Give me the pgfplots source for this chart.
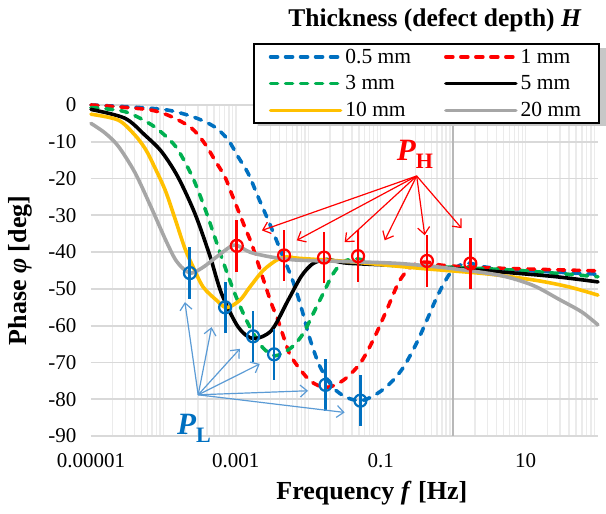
\documentclass[border=0pt]{standalone}
\usepackage{fontspec}
\setmainfont{Liberation Serif}
\usepackage{pgfplots}
\pgfplotsset{compat=1.18}
\usetikzlibrary{arrows.meta}
\definecolor{cblue}{HTML}{0070C0}
\definecolor{cred}{HTML}{FF0000}
\definecolor{cgreen}{HTML}{00B050}
\definecolor{cyellow}{HTML}{FFC000}
\definecolor{cgray}{HTML}{A6A6A6}
\definecolor{carrowblue}{HTML}{5B9BD5}
\definecolor{gridc}{HTML}{D9D9D9}
\definecolor{minorc}{HTML}{EBEBEB}
\tikzset{curve/.style={line width=3.6pt, line cap=round, smooth},
  dcurve/.style={curve, dash pattern=on 7pt off 8pt}}
\begin{document}
\begin{tikzpicture}
\useasboundingbox (-91pt,-78pt) rectangle (515pt,436pt);
\begin{axis}[
  at={(0pt,0pt)}, anchor=south west,
  scale only axis, width=507pt, height=331pt,
  xmode=log, xmin=1e-5, xmax=100, ymin=-90, ymax=0,
  clip=false,
  xtick={1e-5,1e-3,0.1,10}, xticklabels={0.00001,0.001,0.1,10},
  ytick={-90,-80,-70,-60,-50,-40,-30,-20,-10,0},
  yticklabels={-90,-80,-70,-60,-50,-40,-30,-20,-10,0},
  minor xtick={2e-5,3e-5,4e-5,5e-5,6e-5,7e-5,8e-5,9e-5,1e-4,2e-4,3e-4,4e-4,5e-4,6e-4,7e-4,8e-4,9e-4,1e-3,2e-3,3e-3,4e-3,5e-3,6e-3,7e-3,8e-3,9e-3,1e-2,2e-2,3e-2,4e-2,5e-2,6e-2,7e-2,8e-2,9e-2,0.1,0.2,0.3,0.4,0.5,0.6,0.7,0.8,0.9,2,3,4,5,6,7,8,9,10,20,30,40,50,60,70,80,90},
  xminorgrids=true, ymajorgrids=true, xmajorgrids=false,
  major grid style={gridc, line width=1.8pt},
  minor grid style={minorc, line width=1.4pt},
  extra x ticks={1}, extra x tick labels={},
  extra x tick style={xmajorgrids=true, major grid style={color=black!28, line width=2pt}},
  axis line style={draw=none},
  major tick length=0pt, minor tick length=0pt,
  tick label style={font=\fontsize{21}{25}\selectfont},
  yticklabel style={xshift=-11pt},
  xticklabel style={yshift=-14pt},
  xlabel={\textbf{Frequency \textit{f} [Hz]}},
  xlabel style={font=\fontsize{26}{30}\selectfont, at={(axis description cs:0.554,-0.172)}, anchor=center},
  ylabel={\textbf{Phase \textit{φ} [deg]}},
  ylabel style={font=\fontsize{26}{30}\selectfont, at={(axis description cs:-0.14,0.5)}, anchor=center},
  legend columns=2,
  legend cell align=left,
  legend style={at={(axis description cs:0.3195,1.187)}, anchor=north west,
    draw=black, line width=1.6pt, fill=white, inner xsep=15pt, inner ysep=2pt,
    row sep=5pt, font=\fontsize{21.5}{25}\selectfont,
    nodes={inner sep=3pt},
    /tikz/every even column/.append style={column sep=30pt}},
  legend image code/.code={\draw[#1, line width=3.6pt] (0pt,0pt) -- (70pt,0pt);},
]
% legend shadow (drawn before the legend box, which covers it)
\fill[black!22] (axis description cs:0.329,1.172) rectangle (axis description cs:1.05,0.936);
% 0.5 mm
\addplot[cblue, dcurve] coordinates {
(1e-5,0) (4.05e-5,-0.6) (1.164e-4,-1.4) (2.72e-4,-3.4) (5.13e-4,-6.0) (7.83e-4,-9.5)
(1.076e-3,-14.1) (1.48e-3,-18.6) (2.03e-3,-25.0) (2.79e-3,-31.3) (3.64e-3,-36.8)
(4.49e-3,-41.3) (5.86e-3,-46.8) (7.23e-3,-52.2) (8.47e-3,-56.8) (0.0105,-63.5)
(0.0144,-71.0) (0.0220,-76.8) (0.0337,-79.5) (0.0542,-80.4) (0.0873,-78.6)
(0.133,-75.8) (0.203,-71.5) (0.310,-64.9) (0.445,-58.0) (0.611,-51.8) (0.895,-45.9)
(1.23,-43.6) (1.69,-43.0) (2.87,-44.1) (10,-45.0) (100,-46.0)};
\addlegendentry{0.5 mm}
% 1 mm
\addplot[cred, dcurve] coordinates {
(1e-5,0) (2.38e-5,-0.5) (6.87e-5,-1.4) (1.30e-4,-3.2) (2.45e-4,-6.3) (3.73e-4,-10.5)
(5.13e-4,-15.0) (7.05e-4,-19.5) (8.73e-4,-24.1) (1.076e-3,-28.6) (1.33e-3,-33.2)
(1.65e-3,-37.7) (2.03e-3,-43.1) (2.51e-3,-48.6) (3.10e-3,-54.0) (3.83e-3,-58.6)
(4.74e-3,-64.0) (5.86e-3,-68.6) (0.0105,-74.9) (0.0178,-76.8) (0.0302,-74.9)
(0.0513,-70.4) (0.0783,-64.0) (0.120,-55.9) (0.183,-47.7) (0.279,-43.6)
(0.427,-42.7) (0.723,-43.6) (3.16,-44.3) (100,-45.1)};
\addlegendentry{1 mm}
% 3 mm
\addplot[cgreen, dcurve] coordinates {
(1e-5,-0.7) (2.94e-5,-1.8) (6.87e-5,-5.4) (1.164e-4,-9.1) (1.60e-4,-12.3)
(2.51e-4,-19.5) (3.72e-4,-28.0) (5.13e-4,-36.0) (6.92e-4,-43.5) (9.77e-4,-51.5)
(1.48e-3,-59.5) (2.24e-3,-65.5) (3.47e-3,-68.2) (5.89e-3,-65.9) (8.47e-3,-62.2)
(0.01164,-56.8) (0.0160,-51.3) (0.0220,-45.9) (0.0302,-42.7) (0.0462,-41.8)
(0.0783,-43.0) (0.133,-43.6) (0.895,-44.1) (8.26,-45.0) (100,-46.7)};
\addlegendentry{3 mm}
% 5 mm
\addplot[black, curve] coordinates {
(1e-5,-1.2) (2.94e-5,-3.6) (5.56e-5,-8.2) (9.44e-5,-12.7) (1.58e-4,-19.5)
(2.72e-4,-29.5) (4.38e-4,-41.0) (6.35e-4,-51.3) (1.08e-3,-60.4) (1.73e-3,-63.5)
(3.10e-3,-61.3) (5.26e-3,-53.1) (8.05e-3,-46.5) (0.01164,-43.1) (0.0178,-42.0)
(0.0272,-42.7) (0.0415,-43.1) (0.345,-43.9) (2.87,-45.1) (23.8,-46.6) (100,-48.1)};
\addlegendentry{5 mm}
% 10 mm
\addplot[cyellow, curve] coordinates {
(1e-5,-2.5) (2.38e-5,-4.1) (4.05e-5,-8.2) (5.56e-5,-11.8) (6.87e-5,-15.2)
(1.05e-4,-23.0) (1.44e-4,-30.8) (1.98e-4,-39.0) (2.58e-4,-44.1) (3.54e-4,-49.5)
(5.42e-4,-53.1) (7.45e-4,-55.1) (1.135e-3,-53.1) (1.56e-3,-49.5) (2.38e-3,-45.0)
(3.64e-3,-42.2) (5.0e-3,-41.3) (7.64e-3,-41.7) (0.0372,-42.6) (0.345,-44.4)
(2.87,-45.9) (14.1,-47.7) (40.5,-49.5) (100,-51.7)};
\addlegendentry{10 mm}
% 20 mm
\addplot[cgray, curve] coordinates {
(1e-5,-5.0) (1.56e-5,-7.6) (2.38e-5,-11.2) (4.05e-5,-18.4) (6.87e-5,-28.1)
(1.05e-4,-36.3) (1.44e-4,-41.8) (1.875e-4,-44.5) (2.45e-4,-45.7) (3.54e-4,-44.1)
(5.42e-4,-41.3) (8.26e-4,-38.6) (1.02e-3,-38.1) (1.56e-3,-40.0) (2.65e-3,-41.1)
(4.45e-3,-41.8) (7.64e-3,-42.2) (0.0372,-42.6) (0.183,-43.1) (0.895,-44.4)
(4.38,-46.3) (12.5,-49.0) (30,-53.0) (60,-56.3) (100,-59.8)};
\addlegendentry{20 mm}
% P_L points
\addplot[forget plot, only marks, mark=o, cblue, mark size=6pt, mark options={line width=2.2pt, solid},
  error bars/.cd, y dir=both, y explicit, error mark=none,
  error bar style={line width=2.8pt, cblue, solid}]
coordinates {
(2.32e-4,-45.7) +- (0,7)
(7.11e-4,-55.0) +- (0,7)
(1.73e-3,-62.9) +- (0,7)
(3.37e-3,-67.8) +- (0,7)
(0.0173,-76.1) +- (0,7)
(0.0525,-80.4) +- (0,7)};
% P_H points
\addplot[forget plot, only marks, mark=o, cred, mark size=6pt, mark options={line width=2.2pt, solid},
  error bars/.cd, y dir=both, y explicit, error mark=none,
  error bar style={line width=2.8pt, cred, solid}]
coordinates {
(1.03e-3,-38.3) +- (0,7)
(4.63e-3,-40.9) +- (0,7)
(0.0165,-41.5) +- (0,7)
(0.0487,-41.1) +- (0,7)
(0.435,-42.4) +- (0,7)
(1.73,-43.1) +- (0,7)};
% annotation arrows
\begin{scope}[line width=1.2pt, carrowblue, -{Straight Barb[length=7pt,width=12pt]}]
\draw (axis cs:3.02e-4,-78.8) -- (axis cs:1.98e-4,-53.6);
\draw (axis cs:3.02e-4,-78.8) -- (axis cs:4.62e-4,-60.4);
\draw (axis cs:3.02e-4,-78.8) -- (axis cs:1.135e-3,-66.3);
\draw (axis cs:3.02e-4,-78.8) -- (axis cs:2.14e-3,-70.4);
\draw (axis cs:3.02e-4,-78.8) -- (axis cs:9.93e-3,-77.7);
\draw (axis cs:3.02e-4,-78.8) -- (axis cs:0.0318,-83.6);
\end{scope}
\begin{scope}[line width=1.2pt, cred, -{Straight Barb[length=7pt,width=12pt]}]
\draw (axis cs:0.314,-19.3) -- (axis cs:2.29e-3,-34.1);
\draw (axis cs:0.314,-19.3) -- (axis cs:6.93e-3,-36.8);
\draw (axis cs:0.314,-19.3) -- (axis cs:0.0318,-37.3);
\draw (axis cs:0.314,-19.3) -- (axis cs:0.1135,-36.8);
\draw (axis cs:0.314,-19.3) -- (axis cs:0.405,-35.4);
\draw (axis cs:0.314,-19.3) -- (axis cs:1.31,-33.5);
\end{scope}
\node[anchor=base west, text=cred, inner sep=0pt] at (axis cs:0.166,-15.0)
  {\fontsize{31}{31}\selectfont\bfseries\itshape P\raisebox{-8pt}{\fontsize{22}{22}\selectfont\upshape H}};
\node[anchor=base west, text=cblue, inner sep=0pt] at (axis cs:1.535e-4,-89.6)
  {\fontsize{31}{31}\selectfont\bfseries\itshape P\raisebox{-8pt}{\fontsize{22}{22}\selectfont\upshape L}};
\node[anchor=center, inner sep=0pt] at (axis description cs:0.6785,1.257)
  {\fontsize{25.5}{28}\selectfont\bfseries Thickness (defect depth) \textit{H}};
\end{axis}
\end{tikzpicture}
\end{document}
